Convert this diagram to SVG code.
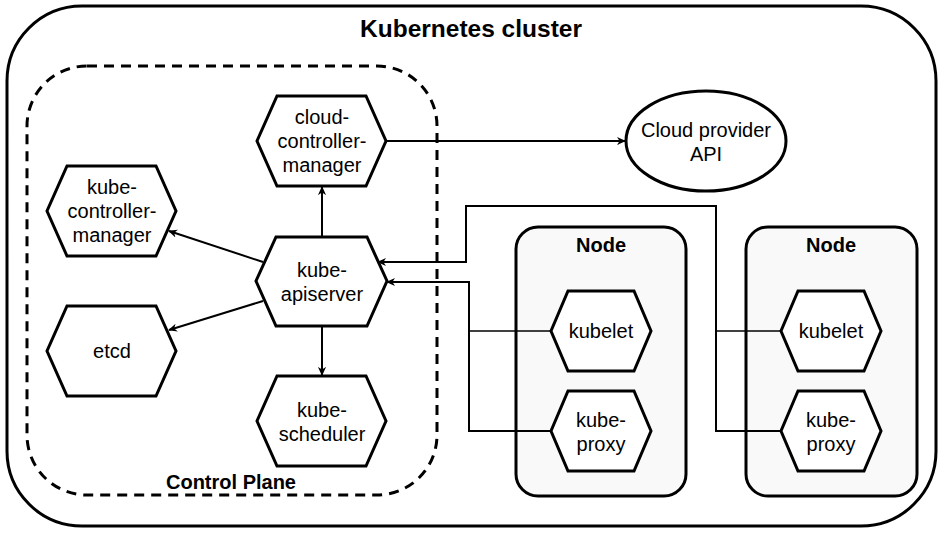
<svg xmlns="http://www.w3.org/2000/svg" width="943" height="557" viewBox="0 0 943 557">
<style>
text{font-family:"Liberation Sans",Arial,sans-serif;fill:#000;text-anchor:middle}
.lbl{font-size:20px}
.bold{font-weight:bold}
.hex{fill:#fff;stroke:#000;stroke-width:3;stroke-linejoin:miter}
.conn{fill:none;stroke:#000;stroke-width:2}
.wire{fill:none;stroke:#000;stroke-width:1.6}
</style>
<defs>
<marker id="arr" viewBox="0 0 10 10" refX="9" refY="5" markerWidth="9" markerHeight="9" orient="auto" markerUnits="userSpaceOnUse">
<path d="M0,0.5 L10,5 L0,9.5 L3,5 Z" fill="#000"/>
</marker>
</defs>
<rect width="943" height="557" fill="#fff"/>
<g id="cluster">
<rect x="7" y="6" width="929" height="520" rx="75" ry="75" fill="#fff" stroke="#000" stroke-width="3"/>
<text x="471" y="37" class="bold" style="font-size:24.5px">Kubernetes cluster</text>
</g>
<g id="control-plane">
<rect x="27" y="66" width="410" height="429" rx="60" ry="60" fill="none" stroke="#000" stroke-width="3" stroke-dasharray="10 7"/>
<text x="231" y="489" class="bold" style="font-size:20px">Control Plane</text>
</g>
<g id="node1">
<rect x="516" y="227" width="170" height="269" rx="22" ry="22" fill="#f9f9f9" stroke="#000" stroke-width="3"/>
<text x="601" y="252" class="bold" style="font-size:20px">Node</text>
</g>
<g id="node2">
<rect x="746" y="227" width="171" height="269" rx="22" ry="22" fill="#f9f9f9" stroke="#000" stroke-width="3"/>
<text x="831" y="252" class="bold" style="font-size:20px">Node</text>
</g>
<g id="connectors">
<path class="conn" d="M387,141 L625,141" marker-end="url(#arr)"/>
<path class="conn" d="M322,236 L322,187" marker-end="url(#arr)"/>
<path class="conn" d="M322,326 L322,375" marker-end="url(#arr)"/>
<path class="conn" d="M263,262 L169,231" marker-end="url(#arr)"/>
<path class="conn" d="M263,301 L169,330" marker-end="url(#arr)"/>
<path class="conn" d="M551,431 L469,431 L469,282 L387,282" marker-end="url(#arr)"/>
<path class="wire" d="M551,331 L469,331"/>
<path class="conn" d="M781,431 L716,431 L716,206 L466,206 L466,262 L378,262" marker-end="url(#arr)"/>
<path class="wire" d="M781,331 L716,331"/>
</g>
<g id="cloud-provider-api">
<ellipse cx="706" cy="141" rx="80" ry="50" fill="#fff" stroke="#000" stroke-width="3"/>
<text x="706" y="137" class="lbl">Cloud provider</text>
<text x="706" y="161" class="lbl">API</text>
</g>
<g id="cloud-controller-manager">
<polygon class="hex" points="277,96 366,96 386,141 366,186 277,186 257,141"/>
<text x="322" y="124" class="lbl">cloud-</text>
<text x="322" y="148" class="lbl">controller-</text>
<text x="322" y="172" class="lbl">manager</text>
</g>
<g id="kube-apiserver">
<polygon class="hex" points="276,237 367,237 387,281 367,326 276,326 256,281"/>
<text x="322" y="277" class="lbl">kube-</text>
<text x="322" y="301" class="lbl">apiserver</text>
</g>
<g id="kube-scheduler">
<polygon class="hex" points="277,376 366,376 386,421 366,466 277,466 257,421"/>
<text x="322" y="417" class="lbl">kube-</text>
<text x="322" y="441" class="lbl">scheduler</text>
</g>
<g id="kube-controller-manager">
<polygon class="hex" points="67,166 156,166 176,211 156,256 67,256 47,211"/>
<text x="112" y="194" class="lbl">kube-</text>
<text x="112" y="218" class="lbl">controller-</text>
<text x="112" y="242" class="lbl">manager</text>
</g>
<g id="etcd">
<polygon class="hex" points="67,306 156,306 176,351 156,396 67,396 47,351"/>
<text x="112" y="358" class="lbl">etcd</text>
</g>
<g id="kubelet1">
<polygon class="hex" points="568,291 634,291 651,331 634,371 568,371 551,331"/>
<text x="601" y="338" class="lbl">kubelet</text>
</g>
<g id="kube-proxy1">
<polygon class="hex" points="568,391 634,391 651,431 634,471 568,471 551,431"/>
<text x="601" y="427" class="lbl">kube-</text>
<text x="601" y="451" class="lbl">proxy</text>
</g>
<g id="kubelet2">
<polygon class="hex" points="798,291 864,291 881,331 864,371 798,371 781,331"/>
<text x="831" y="338" class="lbl">kubelet</text>
</g>
<g id="kube-proxy2">
<polygon class="hex" points="798,391 864,391 881,431 864,471 798,471 781,431"/>
<text x="831" y="427" class="lbl">kube-</text>
<text x="831" y="451" class="lbl">proxy</text>
</g>
</svg>
